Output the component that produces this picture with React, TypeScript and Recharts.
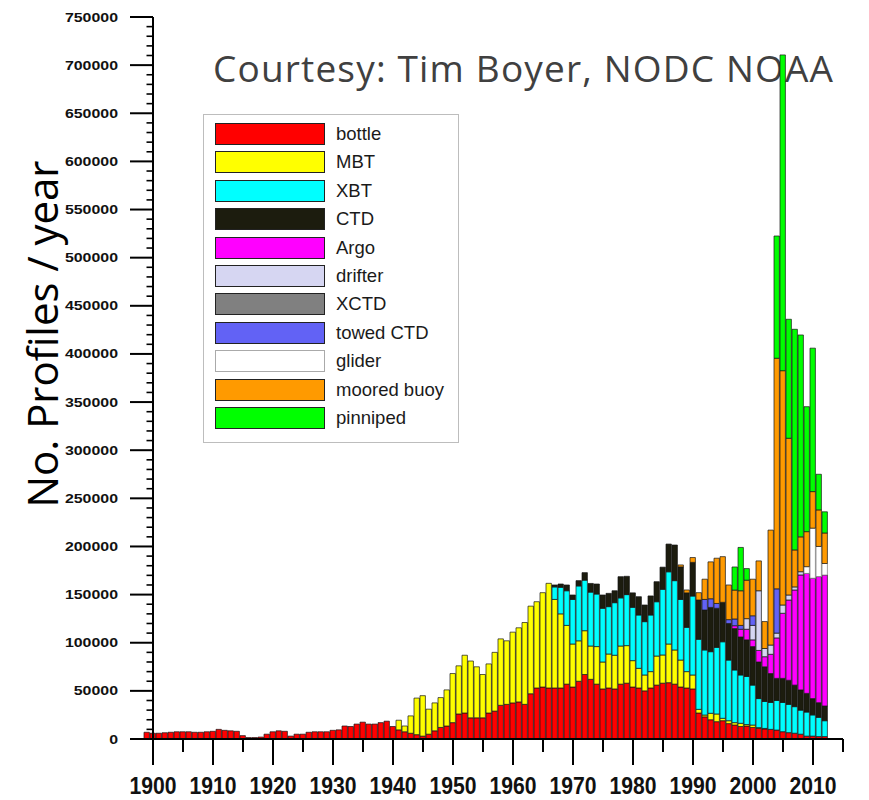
import React from 'react';
import { BarChart, Bar, XAxis, YAxis, ReferenceLine, Legend } from 'recharts';

// ---------- categories ----------
const FIRST_YEAR = 1899;
const LAST_YEAR = 2012;
const years: number[] = Array.from({ length: LAST_YEAR - FIRST_YEAR + 1 }, (_, i) => FIRST_YEAR + i);

// ---------- series values (thousands of profiles per year) ----------
const bottleStart = 1899;
const bottleK = [
  7,
  6, 6, 6.5, 7, 7.5, 7.5, 7.5, 7, 7, 7.5,
  8, 10, 9, 8.5, 8, 3.5, 1.5, 1.5, 2, 5,
  7.5, 8.5, 8, 3, 5, 5, 7, 7.5, 7.5, 7.5,
  9, 9.5, 13.5, 13, 15.5, 17.5, 15.5, 15.5, 17, 18.5,
  13, 9.5, 7.5, 6, 4.5, 3, 5, 8.5, 12, 13.5,
  17, 26, 27, 22, 22, 22, 27, 29, 35, 36,
  37.5, 38.5, 36, 47, 53, 54, 53, 53, 53, 57,
  54, 60, 67, 62, 57, 52, 53, 52, 57, 58,
  54, 53, 50, 53, 56, 58, 58.5, 57, 54, 53,
  52, 27, 23, 20, 18, 19, 16, 14.5, 13, 13.5,
  12, 11, 10.5, 10, 9.3, 7.6, 6.6, 6, 5, 3,
  3, 2.5, 2.5,
];

const mbtStart = 1941;
const mbtK = [
  10, 6, 18, 38, 42, 26, 29, 31, 37.5,
  51, 50, 60, 59, 53, 45, 51, 61, 69, 66,
  73.5, 77, 85, 91, 89.6, 98, 108.7, 92, 77, 61,
  44.7, 42, 45.5, 34.6, 39, 28, 35.3, 35, 39.6, 39,
  27.4, 20.4, 16.5, 17, 30.2, 29.3, 40.2, 35.5, 28, 17,
  14.5, 3.8, 1.9, 6.7, 8, 2.5, 3, 2.5, 3.3, 1.5,
  2.5, 0.8, 0.5,
];

const xbtStart = 1967;
const xbtK = [
  13, 27.6, 36,
  46.3, 57, 52.5, 56, 54.6, 55.8, 49.2, 54.6, 50, 53,
  55.4, 55.4, 55.4, 58.8, 56.4, 68.2, 75, 72, 63, 46,
  82, 72.8, 67.6, 64, 69.2, 79.5, 63, 54.7, 50.2, 50,
  41.5, 30.2, 28, 28, 30.7, 30.4, 29.4, 27.6, 25, 25,
  22, 20, 16.5,
];

const ctdStart = 1967;
const ctdK = [
  2, 3.4, 6,
  4.6, 5.5, 7.8, 9, 10.4, 13.8, 13.8, 12.4, 22, 19,
  15, 19, 17.3, 19.8, 20.8, 23, 28.8, 37, 33.8, 35.8,
  35, 40.8, 41.5, 46, 40.6, 41, 38, 43, 39.5, 38,
  40, 38, 36, 30, 23, 25, 25, 22.4, 21, 19.4,
  17, 15.2, 15.3,
];

const argoStart = 1997;
const argoK = [3, 8, 11, 7, 12, 10.5, 20, 42, 67.6, 83.4, 98.8, 119.4, 124.6, 125, 131, 136];

const drifterStart = 1999;
const drifterK = [11, 15, 62, 8.5, 9.6, 5, 8.6, 5.2, 3.2, 3.4];

const xctdStart = 1990;
const xctdK: number[] = [];

const towedStart = 1992;
const towedK = [11, 9, 5, 0, 4, 7, 4, 0, 10, 0, 0, 0, 46];

const gliderStart = 2009;
const gliderK = [7, 52, 31.3, 12];

const mooredStart = 1988;
const mooredK = [
  2, 3, 5, 7.6, 21, 38.3, 47, 47.4, 36, 30,
  36, 40, 38, 31, 28, 119.4, 239.5, 243.4, 162.8, 38.4,
  36.2, 36.4, 38, 38, 31.7,
];

const pinnipedStart = 1997;
const pinnipedK = [24, 45, 12, 0, 0, 0, 0, 127, 328, 123.6, 229.2, 209.7, 129.8, 149, 37, 22];

// ---------- series definitions ----------
const SERIES = [
  { key: 'bottle', name: 'bottle', color: '#ff0000', start: bottleStart, values: bottleK },
  { key: 'mbt', name: 'MBT', color: '#ffff00', start: mbtStart, values: mbtK },
  { key: 'xbt', name: 'XBT', color: '#00ffff', start: xbtStart, values: xbtK },
  { key: 'ctd', name: 'CTD', color: '#1c1c0e', start: ctdStart, values: ctdK },
  { key: 'argo', name: 'Argo', color: '#ff00ff', start: argoStart, values: argoK },
  { key: 'drifter', name: 'drifter', color: '#d6d6f2', start: drifterStart, values: drifterK },
  { key: 'xctd', name: 'XCTD', color: '#808080', start: xctdStart, values: xctdK },
  { key: 'towed', name: 'towed CTD', color: '#6262f5', start: towedStart, values: towedK },
  { key: 'glider', name: 'glider', color: '#ffffff', start: gliderStart, values: gliderK },
  { key: 'moored', name: 'moored buoy', color: '#ff9a00', start: mooredStart, values: mooredK },
  { key: 'pinniped', name: 'pinniped', color: '#00ff00', start: pinnipedStart, values: pinnipedK },
];

const data = years.map((yr) => {
  const row: Record<string, number> = { year: yr };
  SERIES.forEach((s) => {
    const i = yr - s.start;
    row[s.key] = i >= 0 && i < s.values.length ? s.values[i] * 1000 : 0;
  });
  return row;
});

// ---------- ticks ----------
const xTicks = Array.from({ length: 24 }, (_, i) => 1900 + i * 5);
const yTicks = Array.from({ length: 76 }, (_, i) => i * 10000);

// ---------- layout / style ----------
const W = 869;
const H = 800;
const X_DOMAIN: [number, number] = [1898.5, 2015];
const AXIS_SHIFT = 9; // distance from plot-area left edge (1898.5) to the 1900 axis
const AXIS_FONT = "'Liberation Sans', Arial, sans-serif";

const XTick = (props: any) => {
  const { x, y, payload } = props;
  const v = payload.value as number;
  const major = v % 10 === 0;
  return (
    <g>
      <line x1={x} x2={x} y1={y} y2={y + (major ? 26 : 13)} stroke="#000" strokeWidth={2} />
      {major && v <= 2010 && (
        <text
          x={x}
          y={y + 55}
          textAnchor="middle"
          fontFamily={AXIS_FONT}
          fontWeight="bold"
          fontSize={23}
          textLength={47}
          lengthAdjust="spacingAndGlyphs"
          fill="#111"
        >
          {v}
        </text>
      )}
    </g>
  );
};

const YTick = (props: any) => {
  const { x, y, payload } = props;
  const v = payload.value as number;
  const ax = x + AXIS_SHIFT;
  const major = v % 50000 === 0;
  const label = String(v);
  return (
    <g>
      <line x1={ax - (major ? 23 : 6.5)} x2={ax} y1={y} y2={y} stroke="#000" strokeWidth={major ? 2 : 1.6} />
      {major && (
        <text
          x={ax - 35}
          y={y + 4.5}
          textAnchor="end"
          fontFamily={AXIS_FONT}
          fontWeight="bold"
          fontSize={12.5}
          textLength={label.length * 8.85}
          lengthAdjust="spacingAndGlyphs"
          fill="#111"
        >
          {label}
        </text>
      )}
    </g>
  );
};

const LegendBox = () => (
  <div
    style={{
      width: 256,
      height: 329,
      boxSizing: 'border-box',
      border: '1px solid #bdbdbd',
      background: '#fff',
      position: 'relative',
      fontFamily: AXIS_FONT,
      fontSize: 18.5,
      color: '#1a1a1a',
    }}
  >
    {SERIES.map((s, i) => (
      <div
        key={s.key}
        style={{ position: 'absolute', left: 11, top: 8 + i * 28.4, height: 22, display: 'flex', alignItems: 'center' }}
      >
        <div
          style={{
            width: 110,
            height: 22,
            boxSizing: 'border-box',
            background: s.color,
            border: s.key === 'glider' ? '1px solid #aaa' : '1px solid #222',
          }}
        />
        <span style={{ marginLeft: 11, lineHeight: '22px', whiteSpace: 'nowrap' }}>{s.name}</span>
      </div>
    ))}
  </div>
);

export default function App() {
  return (
    <div style={{ position: 'absolute', left: 0, top: 0, width: W, height: H, background: '#fff' }}>
      <BarChart
        width={W}
        height={H}
        data={data}
        margin={{ top: 17, right: 26, bottom: 0, left: 0 }}
        barGap={0}
        barCategoryGap={0}
      >
        <XAxis
          dataKey="year"
          type="number"
          domain={X_DOMAIN}
          ticks={xTicks}
          interval={0}
          height={61}
          tickSize={0}
          tickMargin={0}
          tickLine={false}
          axisLine={{ stroke: '#000', strokeWidth: 2 }}
          tick={(p: any) => <XTick {...p} />}
        />
        <YAxis
          type="number"
          domain={[0, 750000]}
          ticks={yTicks}
          interval={0}
          width={144}
          tickSize={0}
          tickMargin={0}
          tickLine={false}
          axisLine={false}
          tick={(p: any) => <YTick {...p} />}
        />
        <Legend
          layout="horizontal"
          verticalAlign="middle"
          align="center"
          wrapperStyle={{ left: 203, top: 114, width: 256, height: 329 }}
          content={() => <LegendBox />}
        />
        {SERIES.map((s) => (
          <Bar
            key={s.key}
            dataKey={s.key}
            name={s.name}
            stackId="profiles"
            fill={s.color}
            stroke={s.key === 'glider' ? '#777' : '#161616'}
            strokeWidth={0.7}
            barSize={6}
            isAnimationActive={false}
          />
        ))}
        <ReferenceLine x={1900} stroke="#000" strokeWidth={2} />
        <text
          x={213}
          y={82}
          fontFamily="'Open Sans', sans-serif"
          fontSize={37}
          fill="#404040"
          textLength={620}
        >
          Courtesy: Tim Boyer, NODC NOAA
        </text>
        <text
          transform="translate(58,334) rotate(-90)"
          textAnchor="middle"
          fontFamily="'Open Sans', sans-serif"
          fontSize={42}
          fill="#000"
          textLength={347}
        >
          No. Profiles / year
        </text>
      </BarChart>
    </div>
  );
}
